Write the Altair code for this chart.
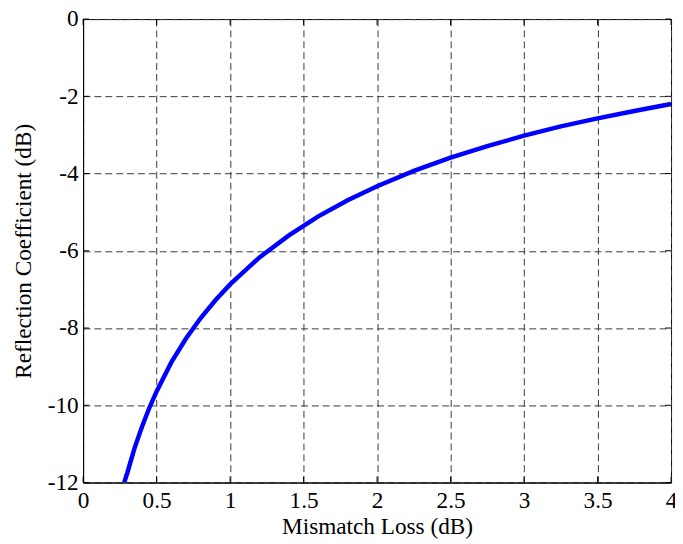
import altair as alt
import pandas as pd

# Curve points
mismatch_loss = [0.28, 0.30, 0.35, 0.40, 0.45, 0.50, 0.60, 0.70, 0.80, 0.90, 1.00,
                 1.20, 1.40, 1.60, 1.80, 2.00, 2.25, 2.50, 2.75, 3.00, 3.25, 3.50,
                 3.75, 4.00]
reflection = [-12.0, -11.76, -11.11, -10.56, -10.07, -9.64, -8.89, -8.27, -7.74,
              -7.28, -6.87, -6.17, -5.60, -5.11, -4.69, -4.33, -3.93, -3.59, -3.29,
              -3.02, -2.78, -2.57, -2.38, -2.20]

x_ticks = [0, 0.5, 1, 1.5, 2, 2.5, 3, 3.5, 4]
y_ticks = [0, -2, -4, -6, -8, -10, -12]

W, H = 595, 469
FONT = "Liberation Serif"
FS = 23.5
X_TITLE = "Mismatch Loss (dB)"
Y_TITLE = "Reflection Coefficient (dB)"

df = pd.DataFrame({"ml": mismatch_loss, "rc": reflection})
xt = pd.DataFrame({"ml": x_ticks})
yt = pd.DataFrame({"rc": y_ticks})

xs = alt.Scale(domain=[0, 4], nice=False, zero=False)
ys = alt.Scale(domain=[-12, 0], nice=False, zero=False)
xa = alt.Axis(values=x_ticks, labelExpr="toString(datum.value)")
ya = alt.Axis(values=y_ticks, labelExpr="toString(datum.value)")

X = alt.X("ml:Q", scale=xs, title=X_TITLE, axis=xa)
Y = alt.Y("rc:Q", scale=ys, title=Y_TITLE, axis=ya)

line = alt.Chart(df).mark_line(color="#0000FF", strokeWidth=4.5, clip=True).encode(x=X, y=Y)

tick_bottom = alt.Chart(xt).mark_rule(color="black", strokeWidth=1).encode(
    x=X, y=alt.value(H), y2=alt.value(H - 6))
tick_top = alt.Chart(xt).mark_rule(color="black", strokeWidth=1).encode(
    x=X, y=alt.value(0), y2=alt.value(6))
tick_left = alt.Chart(yt).mark_rule(color="black", strokeWidth=1).encode(
    y=Y, x=alt.value(0), x2=alt.value(6))
tick_right = alt.Chart(yt).mark_rule(color="black", strokeWidth=1).encode(
    y=Y, x=alt.value(W), x2=alt.value(W - 6))

chart = alt.layer(line, tick_bottom, tick_top, tick_left, tick_right).properties(
    width=W, height=H,
    background="white",
    autosize=alt.AutoSizeParams(type="none"),
    padding={"left": 76, "top": 8, "right": 4, "bottom": 58},
).configure_view(
    stroke="black", strokeWidth=1
).configure_axis(
    domainColor="black", domainWidth=1,
    grid=True, gridColor="#383838", gridDash=[7, 4], gridWidth=1, gridOpacity=1,
    ticks=False, labelFont=FONT, labelFontSize=FS, labelColor="black",
    titleFont=FONT, titleFontSize=FS, titleFontWeight="normal", titleColor="black",
    labelFlush=False,
).configure_axisX(
    labelPadding=6, titlePadding=3
).configure_axisY(
    labelPadding=5, titlePadding=12
)

chart.save("out.html", embed_options={"renderer": "svg", "actions": False})
